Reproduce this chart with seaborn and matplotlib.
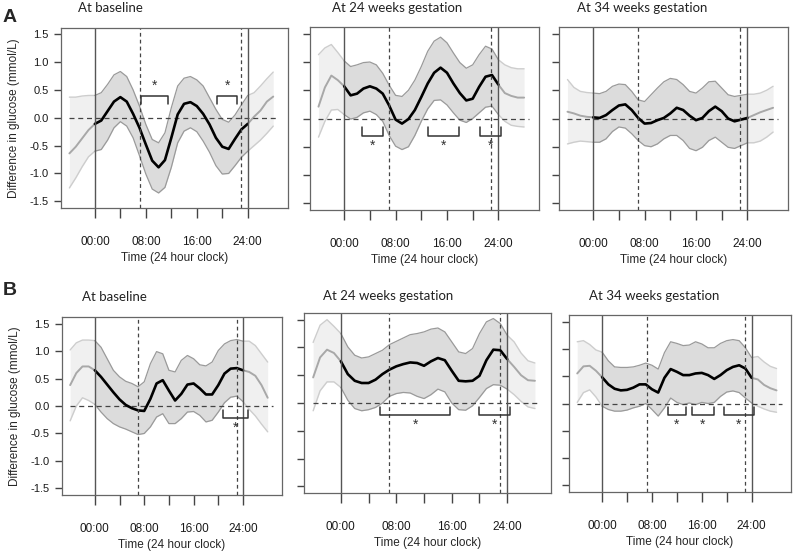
import numpy as np
import pandas as pd
import seaborn as sns
import matplotlib
matplotlib.use("Agg")
import matplotlib.pyplot as plt

# hourly values from -4 h to 28 h (the day 00:00-24:00 plus the edges)
hours = list(range(-4, 29))

# A: at baseline / 24 weeks / 34 weeks
a1_mean = [-0.64, -0.52, -0.37, -0.22,
           -0.11, -0.05, 0.12, 0.29, 0.37, 0.29, 0.07, -0.18, -0.48, -0.77, -0.89, -0.76, -0.36,
           0.06, 0.25, 0.28, 0.21, 0.07, -0.12, -0.36, -0.52, -0.56, -0.38, -0.21, -0.11,
           0.02, 0.13, 0.29, 0.38]
a1_hi = [0.37, 0.37, 0.39, 0.40,
         0.40, 0.45, 0.60, 0.77, 0.83, 0.74, 0.50, 0.21, -0.12, -0.39, -0.45, -0.27, 0.18,
         0.57, 0.71, 0.74, 0.68, 0.57, 0.36, 0.15, -0.03, -0.08, 0.05, 0.23, 0.40,
         0.45, 0.57, 0.70, 0.82]
a1_lo = [-1.26, -1.08, -0.88, -0.70,
         -0.60, -0.57, -0.40, -0.18, -0.07, -0.15, -0.36, -0.68, -1.01, -1.28, -1.35, -1.25, -0.89,
         -0.45, -0.24, -0.18, -0.25, -0.42, -0.62, -0.86, -1.01, -1.00, -0.86, -0.71, -0.60,
         -0.50, -0.40, -0.28, -0.15]

a2_mean = [0.21, 0.55, 0.76, 0.68,
           0.57, 0.41, 0.44, 0.53, 0.57, 0.53, 0.44, 0.23, -0.02, -0.09, -0.01, 0.15, 0.38,
           0.62, 0.81, 0.90, 0.81, 0.62, 0.45, 0.32, 0.35, 0.56, 0.74, 0.77, 0.60,
           0.45, 0.40, 0.37, 0.37]
a2_hi = [1.13, 1.25, 1.31, 1.17,
         1.02, 0.92, 0.95, 0.99, 1.00, 0.95, 0.80, 0.59, 0.41, 0.39, 0.50, 0.68, 0.92,
         1.19, 1.37, 1.44, 1.34, 1.16, 0.99, 0.89, 0.95, 1.13, 1.28, 1.23, 1.04,
         0.95, 0.90, 0.88, 0.88]
a2_lo = [-0.33, -0.05, 0.15, 0.16,
         0.07, -0.01, 0.02, 0.10, 0.13, 0.07, -0.05, -0.30, -0.49, -0.55, -0.50, -0.30, -0.05,
         0.17, 0.32, 0.33, 0.24, 0.10, -0.03, -0.07, 0.00, 0.10, 0.20, 0.22, 0.07,
         -0.05, -0.12, -0.14, -0.15]

a3_mean = [0.12, 0.09, 0.05, 0.03,
           0.02, 0.01, 0.06, 0.15, 0.23, 0.25, 0.15, 0.01, -0.09, -0.08, -0.03, 0.01, 0.09,
           0.19, 0.15, 0.05, -0.03, 0.01, 0.13, 0.21, 0.13, 0.00, -0.05, -0.02, 0.01,
           0.06, 0.11, 0.15, 0.19]
a3_hi = [0.69, 0.55, 0.48, 0.46,
         0.45, 0.44, 0.48, 0.57, 0.61, 0.60, 0.48, 0.33, 0.30, 0.42, 0.54, 0.65, 0.71,
         0.69, 0.60, 0.48, 0.45, 0.54, 0.65, 0.66, 0.54, 0.42, 0.39, 0.41, 0.43,
         0.43, 0.45, 0.50, 0.57]
a3_lo = [-0.45, -0.42, -0.40, -0.41,
         -0.42, -0.42, -0.36, -0.23, -0.15, -0.17, -0.27, -0.39, -0.48, -0.50, -0.45, -0.36, -0.30,
         -0.30, -0.39, -0.53, -0.57, -0.51, -0.39, -0.33, -0.42, -0.51, -0.53, -0.48, -0.43,
         -0.43, -0.40, -0.33, -0.24]

# B: at baseline / 24 weeks / 34 weeks
b1_mean = [0.38, 0.60, 0.72, 0.72,
           0.65, 0.53, 0.39, 0.25, 0.12, 0.02, -0.04, -0.08, -0.09, 0.13, 0.41, 0.47, 0.28,
           0.10, 0.22, 0.39, 0.41, 0.32, 0.21, 0.21, 0.38, 0.59, 0.68, 0.69, 0.65,
           0.62, 0.55, 0.38, 0.15]
b1_hi = [1.02, 1.15, 1.20, 1.20,
         1.19, 1.07, 0.86, 0.65, 0.53, 0.45, 0.41, 0.35, 0.44, 0.77, 0.99, 0.95, 0.65,
         0.62, 0.83, 0.92, 0.86, 0.75, 0.73, 0.80, 1.01, 1.13, 1.19, 1.21, 1.18,
         1.18, 1.10, 0.95, 0.80]
b1_lo = [-0.27, 0.00, 0.15, 0.10,
         0.03, -0.11, -0.23, -0.32, -0.38, -0.42, -0.47, -0.52, -0.50, -0.38, -0.20, -0.14, -0.32,
         -0.32, -0.23, -0.11, -0.10, -0.17, -0.29, -0.26, -0.11, 0.06, 0.16, 0.18, 0.08,
         -0.06, -0.18, -0.33, -0.47]

b2_mean = [0.46, 0.82, 0.96, 0.90,
           0.75, 0.52, 0.40, 0.36, 0.36, 0.42, 0.52, 0.60, 0.66, 0.70, 0.73, 0.72, 0.67,
           0.75, 0.81, 0.77, 0.58, 0.40, 0.39, 0.40, 0.49, 0.77, 0.96, 0.95, 0.79,
           0.65, 0.50, 0.41, 0.40]
b2_hi = [1.09, 1.40, 1.50, 1.38,
         1.25, 1.01, 0.86, 0.81, 0.83, 0.89, 0.95, 1.05, 1.11, 1.17, 1.23, 1.25, 1.28,
         1.33, 1.35, 1.28, 1.10, 0.92, 0.89, 0.98, 1.25, 1.46, 1.52, 1.43, 1.22,
         1.10, 0.90, 0.76, 0.72]
b2_lo = [-0.14, 0.22, 0.38, 0.38,
         0.28, 0.05, -0.10, -0.14, -0.12, -0.08, 0.00, 0.12, 0.17, 0.19, 0.18, 0.12, 0.08,
         0.15, 0.25, 0.20, 0.00, -0.12, -0.13, -0.05, 0.10, 0.26, 0.33, 0.32, 0.25,
         0.15, 0.03, -0.07, -0.10]

b3_mean = [0.55, 0.68, 0.69, 0.60,
           0.48, 0.35, 0.27, 0.24, 0.25, 0.29, 0.35, 0.35, 0.26, 0.20, 0.47, 0.63, 0.58,
           0.52, 0.52, 0.55, 0.56, 0.52, 0.45, 0.52, 0.61, 0.67, 0.70, 0.64, 0.47,
           0.44, 0.34, 0.28, 0.24]
b3_hi = [1.13, 1.15, 1.08, 0.98,
         0.94, 0.78, 0.67, 0.66, 0.66, 0.67, 0.70, 0.74, 0.70, 0.63, 0.93, 1.13, 1.10,
         1.06, 1.07, 1.13, 1.09, 1.02, 1.02, 1.10, 1.15, 1.17, 1.15, 1.02, 0.84,
         0.86, 0.76, 0.68, 0.64]
b3_lo = [0.02, 0.20, 0.25, 0.12,
         -0.05, -0.11, -0.14, -0.14, -0.12, -0.08, -0.05, 0.00, -0.11, -0.23, -0.08, 0.10, 0.02,
         -0.02, 0.01, -0.02, 0.02, 0.00, 0.02, 0.13, 0.21, 0.23, 0.20, 0.10, 0.01,
         -0.05, -0.10, -0.14, -0.16]

# significant periods (hours) marked with brackets
a1_sig = [(7.3, 11.5), (19.2, 22.3)]
a2_sig = [(2.75, 6.0), (13.0, 17.8), (21.1, 24.4)]
a3_sig = []
b1_sig = [(20.8, 24.8)]
b2_sig = [(5.65, 15.8), (20.0, 24.4)]
b3_sig = [(10.5, 13.4), (14.4, 17.9), (19.5, 24.3)]

# wake / sleep times (dashed lines)
a1_wake = (7.15, 22.9)
a2_wake = (7.0, 22.8)
a3_wake = (7.0, 22.85)
b1_wake = (7.0, 23.0)
b2_wake = (7.0, 23.0)
b3_wake = (7.15, 22.9)

titles = ["At baseline", "At 24 weeks gestation", "At 34 weeks gestation"]
xticks = [0, 4, 8, 12, 16, 20, 24]
xticklabels = ["00:00", "", "08:00", "", "16:00", "", "24:00"]
yticks = [-1.5, -1.0, -0.5, 0.0, 0.5, 1.0, 1.5]
yticklabels = ["-1.5", "-1.0", "-0.5", "0.0", "0.5", "1.0", "1.5"]

W, H = 793, 555
sns.set_style("ticks")
plt.rcParams['font.family'] = ['Liberation Sans', 'DejaVu Sans']

fig = plt.figure(figsize=(W / 100, H / 100), dpi=100)


def px_axes(l, r, t, b):
    return fig.add_axes([l / W, 1 - b / H, (r - l) / W, (b - t) / H])


def draw_panel(ax, mean, lo, hi, sig, wake, side, show_y):
    df = pd.DataFrame({"hour": hours, "mean": mean, "lo": lo, "hi": hi})
    left = df[df.hour <= 0]
    right = df[df.hour >= 24]
    inner = df[(df.hour >= 0) & (df.hour <= 24)]

    for part in (left, right):
        ax.fill_between(part.hour, part.lo, part.hi, color="#f0f0f0", lw=0)
        for col in ("lo", "hi"):
            sns.lineplot(data=part, x="hour", y=col, ax=ax, color="#cdcdcd", lw=1.0)
        sns.lineplot(data=part, x="hour", y="mean", ax=ax, color="#a8a8a8", lw=1.4)

    ax.fill_between(inner.hour, inner.lo, inner.hi, color="#dcdcdc", lw=0)
    for col in ("lo", "hi"):
        sns.lineplot(data=inner, x="hour", y=col, ax=ax, color="#9a9a9a", lw=0.9)

    ax.plot([-4, 28.8], [0, 0], color="#444444", lw=0.9, ls=(0, (4, 3)))
    sns.lineplot(data=inner, x="hour", y="mean", ax=ax, color="black", lw=1.9)

    for xv in (0, 24):
        ax.axvline(xv, color="#555555", lw=1.0)
    for xv in wake:
        ax.axvline(xv, color="#444444", lw=0.9, ls=(0, (3, 2.5)))

    if side == "up":
        yb, ye, ys = 0.39, 0.25, 0.44
        va = "bottom"
    elif side == "downA":
        yb, ye, ys = -0.31, -0.15, -0.36
        va = "top"
    else:
        yb, ye, ys = -0.21, -0.07, -0.27
        va = "top"
    for s, e in sig:
        ax.plot([s, s, e, e], [ye, yb, yb, ye], color="#333333", lw=1.1)
        ax.text((s + e) / 2, ys, "*", ha="center", va=va, fontsize=10, color="#333333")

    ax.set_xlim(-5.32, 30.32)
    ax.set_ylim(-1.62, 1.62)
    ax.set_xticks(xticks)
    ax.set_xticklabels(xticklabels)
    ax.set_yticks(yticks)
    ax.tick_params(axis="x", which="major", bottom=True, direction="out", length=7, width=1.0,
                   color="#444444", labelcolor="#1a1a1a", pad=13, labelsize=8.5)
    ax.tick_params(axis="y", which="major", left=True, direction="out", length=5, width=1.0,
                   color="#444444", labelcolor="#1a1a1a", pad=4, labelsize=8)
    if show_y:
        ax.set_yticklabels(yticklabels)
        ax.set_ylabel("Difference in glucose (mmol/L)", fontsize=8.5, labelpad=7)
    else:
        ax.set_yticklabels([])
        ax.set_ylabel("")
    ax.set_xlabel("Time (24 hour clock)", fontsize=8.5, labelpad=3)
    for sp in ax.spines.values():
        sp.set_visible(True)
        sp.set_color("#666666")
        sp.set_linewidth(0.9)
    ax.set_facecolor("white")


panels = [
    ((61, 288, 27.5, 208), a1_mean, a1_lo, a1_hi, a1_sig, a1_wake, "up", True, (78, 12.5)),
    ((310, 539, 27, 210), a2_mean, a2_lo, a2_hi, a2_sig, a2_wake, "downA", False, (332, 12.5)),
    ((559, 788, 27, 210), a3_mean, a3_lo, a3_hi, a3_sig, a3_wake, "downA", False, (577, 12.5)),
    ((62, 282, 317, 495), b1_mean, b1_lo, b1_hi, b1_sig, b1_wake, "downB", True, (82, 301)),
    ((304, 551, 313, 493), b2_mean, b2_lo, b2_hi, b2_sig, b2_wake, "downB", False, (323, 300)),
    ((569, 791, 315, 492), b3_mean, b3_lo, b3_hi, b3_sig, b3_wake, "downB", False, (589, 300)),
]

for i, (box, mean, lo, hi, sig, wake, side, show_y, tpos) in enumerate(panels):
    ax = px_axes(*box)
    draw_panel(ax, mean, lo, hi, sig, wake, side, show_y)
    fig.text(tpos[0] / W, 1 - tpos[1] / H, titles[i % 3], ha="left", va="baseline",
             fontsize=9.5, family=["Lato", "DejaVu Sans"], color="#222222")

fig.text(3 / W, 1 - 21.5 / H, "A", fontsize=14, fontweight="bold", va="baseline", ha="left")
fig.text(3 / W, 1 - 295 / H, "B", fontsize=14, fontweight="bold", va="baseline", ha="left")

fig.savefig("out.png", dpi=100, facecolor="white")
